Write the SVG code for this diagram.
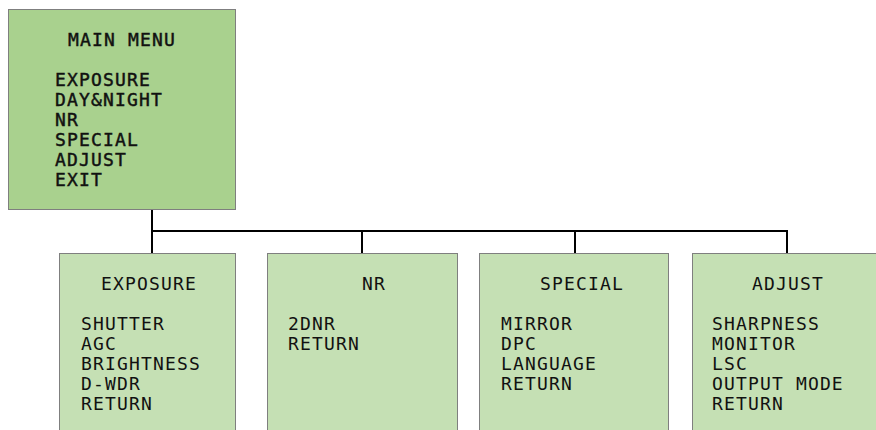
<svg xmlns="http://www.w3.org/2000/svg" width="876" height="430" viewBox="0 0 876 430">
<style>
.main{fill:#a9d18e;stroke:#7f7f7f;stroke-width:1}
.sub{fill:#c5e0b4;stroke:#7f7f7f;stroke-width:1}
text{font-family:"DejaVu Sans Mono","Liberation Mono",monospace;font-size:18px;letter-spacing:1.15px;fill:#111}
.b{stroke:#111;stroke-width:0.45px}
.wire{stroke:#000;stroke-width:2;fill:none}
</style>
<rect width="876" height="430" fill="#fff"/>
<g id="connectors">
<path class="wire" d="M152 210V253M151 231H788M362 231V253M575 231V253M787 231V253"/>
</g>
<g id="main-menu">
<rect class="main" x="8.5" y="9.5" width="227" height="200"/>
<text class="b" x="68" y="46">MAIN MENU</text>
<text class="b" x="55" y="86">EXPOSURE</text>
<text class="b" x="55" y="106">DAY&amp;NIGHT</text>
<text class="b" x="55" y="126">NR</text>
<text class="b" x="55" y="146">SPECIAL</text>
<text class="b" x="55" y="166">ADJUST</text>
<text class="b" x="55" y="186">EXIT</text>
</g>
<g id="exposure">
<rect class="sub" x="59.5" y="253.5" width="176" height="200"/>
<text x="101" y="290">EXPOSURE</text>
<text x="81" y="330">SHUTTER</text>
<text x="81" y="350">AGC</text>
<text x="81" y="370">BRIGHTNESS</text>
<text x="81" y="390">D-WDR</text>
<text x="81" y="410">RETURN</text>
</g>
<g id="nr">
<rect class="sub" x="267.5" y="253.5" width="190" height="200"/>
<text x="362" y="290">NR</text>
<text x="288" y="330">2DNR</text>
<text x="288" y="350">RETURN</text>
</g>
<g id="special">
<rect class="sub" x="479.5" y="253.5" width="189" height="200"/>
<text x="540" y="290">SPECIAL</text>
<text x="501" y="330">MIRROR</text>
<text x="501" y="350">DPC</text>
<text x="501" y="370">LANGUAGE</text>
<text x="501" y="390">RETURN</text>
</g>
<g id="adjust">
<rect class="sub" x="692.5" y="253.5" width="200" height="200"/>
<text x="752" y="290">ADJUST</text>
<text x="712" y="330">SHARPNESS</text>
<text x="712" y="350">MONITOR</text>
<text x="712" y="370">LSC</text>
<text x="712" y="390">OUTPUT MODE</text>
<text x="712" y="410">RETURN</text>
</g>
</svg>
